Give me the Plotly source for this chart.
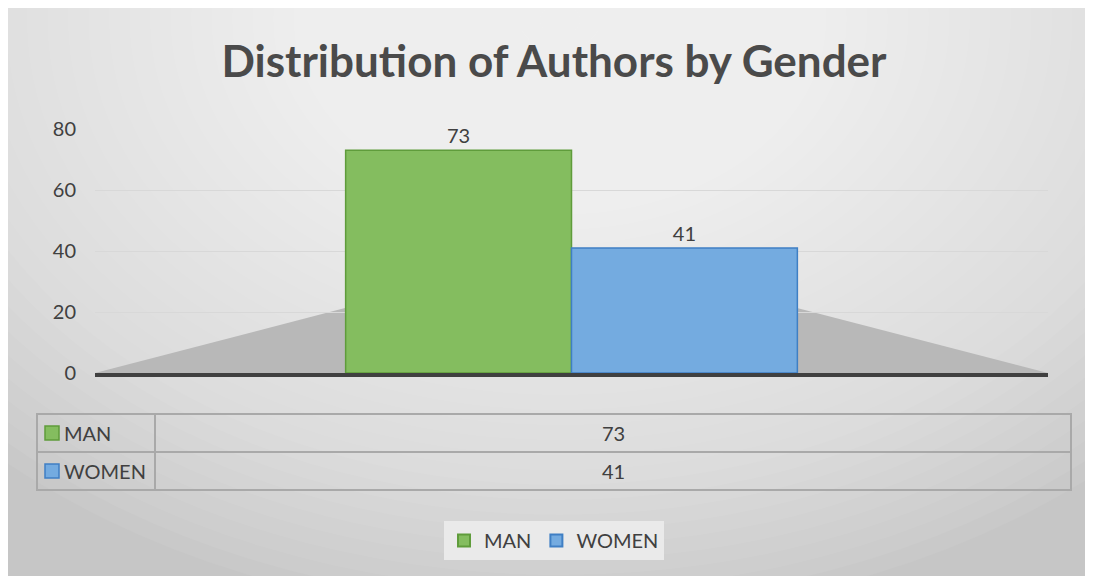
import plotly.graph_objects as go

# Chart data #
genders = ["MAN", "WOMEN"]
authors = [73, 41]
category = ["Authors"]
y_ticks = [0, 20, 40, 60, 80]

fill_colors = ["#84bd5f", "#74abe0"]
edge_colors = ["#5f9c3b", "#3f7fc4"]

# Pixel layout (screen coords; the page body adds an 8px offset) #
OFF = 8
W, H = 1093, 576
L, R, T, B = 95, 1048, 129, 373
pw, ph = R - L, B - T

def px_x(x):
    return (x - L) / pw

def px_y(y):
    return (B - y) / ph

font_family = "Lato, 'Open Sans', sans-serif"
text_grey = "#404040"

fig = go.Figure()

# Bars #
for name, value, fill, edge in zip(genders, authors, fill_colors, edge_colors):
    fig.add_trace(go.Bar(x=category,
                         y=[value],
                         name=name,
                         marker=dict(color=fill, line=dict(color=edge, width=1.5)),
                         text=[value],
                         textposition="outside",
                         textfont=dict(size=20, color=text_grey),
                         cliponaxis=False,
                         hovertemplate=name + ": %{y}<extra></extra>",
                         )
    )

shapes = []

# Radial-ish background gradient #
n_rings = 40
for i in range(n_rings):
    k = 1 - i / n_rings
    shapes.append(dict(type="circle", xref="paper", yref="paper",
                       xsizemode="pixel", ysizemode="pixel",
                       xanchor=px_x(560), yanchor=px_y(20),
                       x0=-820 * k, x1=820 * k, y0=-600 * k, y1=600 * k,
                       fillcolor="white", opacity=0.055, line=dict(width=0),
                       layer="below"))

# Floor of the 3D chart #
fx = [px_x(95), px_x(345), px_x(797), px_x(1048)]
fy = [px_y(373), px_y(308), px_y(308), px_y(373)]
shapes.append(dict(type="path", xref="paper", yref="paper",
                   path=f"M {fx[0]} {fy[0]} L {fx[1]} {fy[1]} L {fx[2]} {fy[2]} L {fx[3]} {fy[3]} Z",
                   fillcolor="#b8b8b8", line=dict(width=0), layer="between"))

# Data table grid #
tx0, tx1, tx_mid = px_x(37), px_x(1071), px_x(155)
row_edges = [414, 452, 490]
grid = dict(color="#a9a9a9", width=2)
shapes.append(dict(type="rect", xref="paper", yref="paper",
                   x0=tx0, x1=tx1, y0=px_y(row_edges[0]), y1=px_y(row_edges[-1]),
                   line=grid, fillcolor="rgba(0,0,0,0)"))
shapes.append(dict(type="line", xref="paper", yref="paper",
                   x0=tx0, x1=tx1, y0=px_y(row_edges[1]), y1=px_y(row_edges[1]), line=grid))
shapes.append(dict(type="line", xref="paper", yref="paper",
                   x0=tx_mid, x1=tx_mid, y0=px_y(row_edges[0]), y1=px_y(row_edges[-1]), line=grid))

annotations = []
for i, (name, value, fill, edge) in enumerate(zip(genders, authors, fill_colors, edge_colors)):
    yc = (row_edges[i] + row_edges[i + 1]) / 2
    shapes.append(dict(type="rect", xref="paper", yref="paper",
                       x0=px_x(45), x1=px_x(59), y0=px_y(yc + 7), y1=px_y(yc - 7),
                       fillcolor=fill, line=dict(color=edge, width=1.5)))
    annotations.append(dict(xref="paper", yref="paper", x=px_x(62), y=px_y(yc),
                            xanchor="left", yanchor="middle", text=name, showarrow=False,
                            font=dict(size=20, color=text_grey, family=font_family)))
    annotations.append(dict(xref="paper", yref="paper", x=px_x(613), y=px_y(yc),
                            xanchor="center", yanchor="middle", text=str(value), showarrow=False,
                            font=dict(size=20, color=text_grey, family=font_family)))

# Figure Layout #
fig.update_layout(width=W, height=H,
                  margin=dict(l=L - OFF, r=W - R + OFF, t=T - OFF, b=H - B + OFF, pad=0),
                  paper_bgcolor="#c6c6c6",
                  plot_bgcolor="rgba(0,0,0,0)",
                  font=dict(family=font_family, color=text_grey, size=20),
                  title=dict(text="<b>Distribution of Authors by Gender</b>",
                             x=px_x(554), xref="paper", xanchor="center",
                             y=1 - (62 - OFF) / H, yanchor="middle",
                             font=dict(size=44, color="#4a4a4a", family=font_family)),
                  barmode="group",
                  bargap=0.526,
                  bargroupgap=0,
                  showlegend=True,
                  legend=dict(orientation="h",
                              x=px_x(554), xanchor="center",
                              y=px_y(521), yanchor="top",
                              bgcolor="rgba(236,236,236,0.9)",
                              font=dict(size=20, color=text_grey),
                              itemwidth=30,
                              itemsizing="constant"),
                  shapes=shapes,
                  annotations=annotations,
                  )

# X-Axis Styles #
fig.update_xaxes(showticklabels=False,
                 showgrid=False,
                 showline=True,
                 linecolor="#404040",
                 linewidth=4,
                 zeroline=False,
                 fixedrange=True)

# Y Axis Styles #
fig.update_yaxes(range=[0, 80],
                 tickvals=y_ticks,
                 showgrid=True,
                 gridcolor="#d8d8d8",
                 gridwidth=1,
                 zeroline=False,
                 showline=False,
                 ticks="",
                 ticklabelstandoff=18,
                 tickfont=dict(size=20, color=text_grey),
                 fixedrange=True)

fig.write_html("out.html")
